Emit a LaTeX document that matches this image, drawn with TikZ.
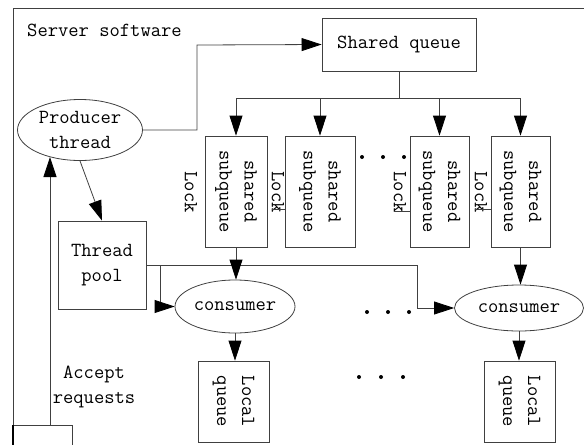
\documentclass[tikz,border=0pt]{standalone}
\usetikzlibrary{arrows.meta,shapes.geometric}
\begin{document}
\begin{tikzpicture}[x=1pt,y=-1pt,
  every node/.style={font=\fontsize{20}{25}\selectfont\ttfamily, align=center},
  ln/.style={line width=0.8pt, draw=black!75},
  box/.style={ln, draw, rectangle, inner sep=0pt},
  ell/.style={ln, draw, ellipse, inner sep=0pt},
  arr/.style={ln, -{Triangle[length=20pt,width=13pt,color=black]}},
  rot/.style={rotate=-90, inner sep=0pt},
  dot/.style={circle, fill=black, inner sep=0pt, minimum size=4pt}]
\useasboundingbox (0,0) rectangle (584,445);
% frame
\draw[ln] (584,8) -- (13,8) -- (13,445);
\node[anchor=west, inner sep=0pt] (title) at (27,30) {Server software};
% nodes
\node[ell, minimum width=125pt, minimum height=61pt] (prod) at (80,130) {Producer\\thread};
\node[box, minimum width=154pt, minimum height=53pt] (sq) at (399,44.5) {Shared queue};
\node[box, minimum width=62pt, minimum height=111pt] (b1) at (236,191.5) {};
\node[box, minimum width=70pt, minimum height=111pt] (b2) at (320,191.5) {};
\node[box, minimum width=59pt, minimum height=111pt] (b3) at (439.5,191.5) {};
\node[box, minimum width=59pt, minimum height=111pt] (b4) at (520.5,191.5) {};
\foreach \b in {b1,b2,b3,b4}{\node[rot] at (\b) {shared\\subqueue};}
\node[rot] (l1) at (191,192) {Lock};
\node[rot] (l2) at (278,192) {Lock};
\node[rot] (l3) at (400,192) {Lock};
\node[rot] (l4) at (481,192) {Lock};
\draw[ln] (l2.south |- 0,209) -- (b2.west |- 0,209);
\draw[ln] (l3.south |- 0,211) -- (b3.west |- 0,211);
\draw[ln] (l4.south |- 0,209) -- (b4.west |- 0,209);
\node[dot] (d1) at (362,157) {};
\node[dot] (d2) at (383,157) {};
\node[dot] (d3) at (404,157) {};
\node[box, minimum width=88pt, minimum height=88pt] (pool) at (102,265) {Thread\\pool};
\node[ell, minimum width=120pt, minimum height=53pt] (c1) at (235,306.5) {consumer};
\node[ell, minimum width=129pt, minimum height=46pt] (c2) at (519,308) {consumer};
\node[dot] (e1) at (367,312) {};
\node[dot] (e2) at (388,312) {};
\node[dot] (e3) at (409,312) {};
\node[dot] (f1) at (359,377) {};
\node[dot] (f2) at (381,377) {};
\node[dot] (f3) at (403,377) {};
\node[box, minimum width=71pt, minimum height=81pt] (lq1) at (233.5,401.5) {};
\node[box, minimum width=71pt, minimum height=81pt] (lq2) at (519.5,401.5) {};
\node[rot] at (lq1) {Local\\queue};
\node[rot] at (lq2) {Local\\queue};
\node[inner sep=0pt] (acc) at (94,386.5) {Accept\\requests};
% client box (cut off at bottom)
\draw[ln] (13,445) -- (13,425) -- (72,425) -- (72,445);
\draw[line width=1.2pt] (13,425) -- (13,445);
\coordinate (cl) at (50,425);
\coordinate (ptip) at (50,157);
% connectors
\draw[arr] (cl) -- (ptip);
\draw[arr] (prod.east) -- (197,130) -- (197,45) -- (sq.west);
\draw[ln] (sq.south) -- (399,98);
\draw[ln] (236,98) -- (520.5,98);
\draw[arr] (b1.north |- 0,98) -- (b1.north);
\draw[arr] (b2.north |- 0,98) -- (b2.north);
\draw[arr] (b3.north |- 0,98) -- (b3.north);
\draw[arr] (b4.north |- 0,98) -- (b4.north);
\draw[arr] (prod.south) -- (pool.north);
\draw[arr] (pool.east) -- (417,265) |- (c2.west);
\draw[arr] (160,265) |- (c1.west);
\draw[arr] (b1.south) -- (c1.north -| b1.south);
\draw[arr] (b4.south) -- (c2.north -| b4.south);
\draw[arr] (c1.south) -- (lq1.north -| c1.south);
\draw[arr] (c2.south) -- (lq2.north -| c2.south);
\end{tikzpicture}
\end{document}
